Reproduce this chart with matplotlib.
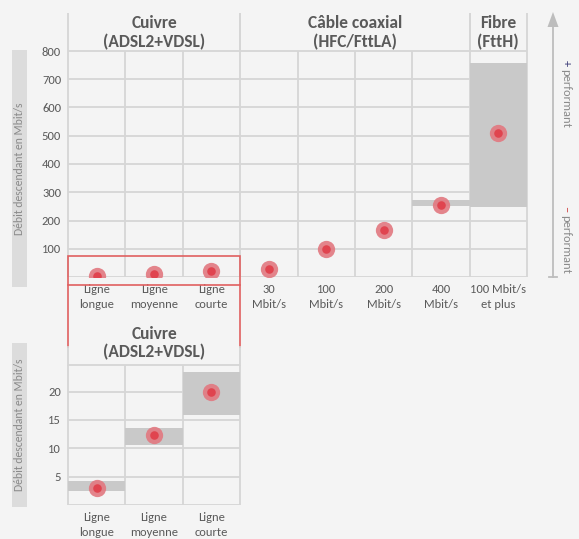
import matplotlib.pyplot as plt
from matplotlib import font_manager as fm
from matplotlib.patches import Rectangle, Polygon
from matplotlib.lines import Line2D

installed = {f.name for f in fm.fontManager.ttflist}
prefer = ['Carlito', 'Roboto Condensed', 'PT Sans Narrow', 'Open Sans Condensed',
          'Liberation Sans Narrow', 'Arimo', 'DejaVu Sans']
family = [f for f in prefer if f in installed] + ['DejaVu Sans']
plt.rcParams['font.family'] = family[:1] + ['DejaVu Sans']

# data
labels = ["Ligne\nlongue", "Ligne\nmoyenne", "Ligne\ncourte", "30\nMbit/s", "100\nMbit/s",
          "200\nMbit/s", "400\nMbit/s", "100 Mbit/s\net plus"]
typical = [3, 12.3, 20, 30, 100, 165, 255, 510]
band_low = [2.5, 10.5, 15.9, None, None, None, 250, 247]
band_high = [4.2, 13.5, 23.5, None, None, None, 273, 757]
groups = ["Cuivre\n(ADSL2+VDSL)", "Câble coaxial\n(HFC/FttLA)", "Fibre\n(FttH)"]
group_sizes = [3, 4, 1]
top_ticks = [100, 200, 300, 400, 500, 600, 700, 800]
zoom_ticks = [5, 10, 15, 20]
n_zoom = 3

W, H = 579, 539
BG = '#f4f4f4'
GRID = '#d6d6d6'
TXT = '#5a5a5a'
BAND = '#c9c9c9'
RED = '#e06060'
FS = 9
HFS = 12.5


def fx(x):
    return x / W


def fy(y):
    return 1 - y / H


fig = plt.figure(figsize=(W / 100, H / 100), dpi=100, facecolor=BG)


def draw_panel(ax, n, ymax, ticks, min_band):
    ax.set_facecolor(BG)
    ax.set_xlim(0, n)
    ax.set_ylim(0, ymax)
    for s in ax.spines.values():
        s.set_visible(False)
    ax.hlines([0] + ticks, 0, n, color=GRID, lw=1.3, zorder=1)
    ax.hlines(ymax, 0, n, color=GRID, lw=1.3, zorder=1, clip_on=False)
    ax.vlines(range(n + 1), 0, ymax, color=GRID, lw=1.3, zorder=1, clip_on=False)
    ax.set_yticks(ticks)
    ax.set_yticklabels([str(t) for t in ticks], fontsize=FS, color=TXT)
    ax.set_xticks([i + 0.5 for i in range(n)])
    ax.set_xticklabels(labels[:n], fontsize=FS, color=TXT, linespacing=1.45)
    ax.tick_params(length=0, pad=5)
    for i in range(n):
        if band_low[i] is not None and band_high[i] - band_low[i] > min_band:
            ax.bar(i, band_high[i] - band_low[i], bottom=band_low[i], width=1,
                   align='edge', color=BAND, zorder=2)
    xs = [i + 0.5 for i in range(n)]
    ax.scatter(xs, typical[:n], s=155, color='#e27880', alpha=0.9, lw=0, zorder=3)
    ax.scatter(xs, typical[:n], s=38, color='#e0444f', lw=0, zorder=4)


# top chart
ax1 = fig.add_axes([fx(68), fy(277), fx(527) - fx(68), fy(51) - fy(277)])
draw_panel(ax1, len(labels), 800, top_ticks[:-1], 15)
ax1.set_yticks(top_ticks)
ax1.set_yticklabels([str(t) for t in top_ticks], fontsize=FS, color=TXT)
head = 800 * 38 / 226
start = 0
for g, size in zip(groups, group_sizes):
    ax1.vlines([start, start + size], 800, 800 + head, color=GRID, lw=1.3, clip_on=False)
    ax1.text(start + size / 2, 800 + head * 0.48, g, ha='center', va='center',
             fontsize=HFS, fontweight='bold', color=TXT, linespacing=1.2, clip_on=False)
    start += size

# red callout over copper region
ax1.add_patch(Rectangle((0, -28), n_zoom, 102, fill=False, ec=RED, lw=1.2,
                        zorder=5, clip_on=False))
for xpx in (68, 240):
    fig.add_artist(Line2D([fx(xpx), fx(xpx)], [fy(285), fy(347)], color=RED, lw=1.2))
    fig.add_artist(Line2D([fx(xpx), fx(xpx)], [fy(347), fy(365)], color=GRID, lw=1.3))

# bottom zoom chart
ax2 = fig.add_axes([fx(68), fy(505), fx(240) - fx(68), fy(365) - fy(505)])
draw_panel(ax2, n_zoom, 24.7, zoom_ticks, 0)
fig.text(fx(154), fy(343), groups[0], ha='center', va='center', fontsize=HFS,
         fontweight='bold', color=TXT, linespacing=1.2)

# y-axis label boxes
for y0, y1 in ((50, 287), (343, 507)):
    fig.add_artist(Rectangle((fx(12), fy(y1)), fx(27) - fx(12), fy(y0) - fy(y1),
                             color='#dcdcdc', lw=0))
    fig.text(fx(19.5), fy((y0 + y1) / 2), "Débit descendant en Mbit/s", rotation=90,
             ha='center', va='center', fontsize=8.5, color='#8a8a8a')

# performance arrow
ac = '#bdbdbd'
fig.add_artist(Line2D([fx(553), fx(553)], [fy(25), fy(277)], color=ac, lw=1.3))
fig.add_artist(Line2D([fx(549), fx(557)], [fy(277), fy(277)], color=ac, lw=1.3))
fig.add_artist(Polygon([(fx(547.5), fy(27)), (fx(558.5), fy(27)), (fx(553), fy(12))],
                       closed=True, color=ac, lw=0))
fig.text(fx(566), fy(60), "+", rotation=-90, ha='center', va='top', fontsize=FS,
         color='#3c3c78')
fig.text(fx(566), fy(69), "performant", rotation=-90, ha='center', va='top',
         fontsize=FS, color='#8a8a8a')
fig.text(fx(566), fy(206), "–", rotation=-90, ha='center', va='top', fontsize=FS,
         color='#d04040')
fig.text(fx(566), fy(215), "performant", rotation=-90, ha='center', va='top',
         fontsize=FS, color='#8a8a8a')

fig.savefig("out.png", dpi=100, facecolor=BG)
